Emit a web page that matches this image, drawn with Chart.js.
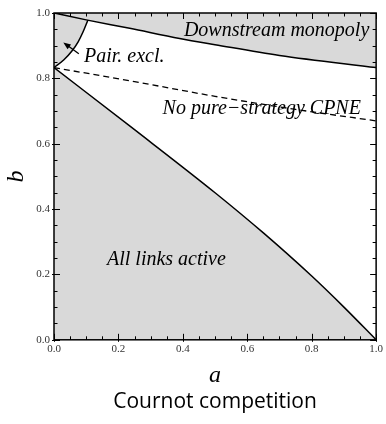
<!DOCTYPE html>
<html>
<head>
<meta charset="utf-8">
<script src="https://cdn.jsdelivr.net/npm/chart.js@4/dist/chart.umd.min.js"></script>
<style>
  html, body { margin: 0; padding: 0; background: #fff; }
  #wrap { width: 386px; height: 424px; position: relative; }
</style>
</head>
<body>
<div id="wrap"><canvas id="chart"></canvas></div>
<script>
// ---- data (a on x, b on y) ----
const topA   = [0, 0.1, 0.235, 0.39, 0.5, 0.7, 1];
const topB   = [1.0, 0.979, 0.953, 0.922, 0.903, 0.870, 0.833];

const dashA  = [0, 0.25, 0.5, 0.75, 1];
const dashB  = [0.833, 0.79, 0.745, 0.705, 0.67];

const lowA   = [0, 0.25, 0.5, 0.65, 0.8, 0.9, 1];
const lowB   = [0.833, 0.643, 0.45, 0.327, 0.195, 0.1, 0];

const arcA   = [0, 0.03, 0.055, 0.075, 0.09, 0.105];
const arcB   = [0.833, 0.856, 0.883, 0.912, 0.942, 0.978];

const tickValues = [0, 0.2, 0.4, 0.6, 0.8, 1.0];

const regionLabels = [
  { text: 'Downstream monopoly',   a: 0.691, b: 0.93 },
  { text: 'Pair. excl.',           a: 0.218, b: 0.85 },
  { text: 'No pure\u2212strategy CPNE', a: 0.645, b: 0.69 },
  { text: 'All links active',      a: 0.349, b: 0.229 }
];
const arrowFrom = { a: 0.077, b: 0.875 };
const arrowTo   = { a: 0.029, b: 0.910 };

const GRAY  = '#d9d9d9';
const SERIF = '"Liberation Serif", "DejaVu Serif", serif';

const pts = (xs, ys) => xs.map((x, i) => ({ x, y: ys[i] }));

// labels, arrow and frame with inward ticks
const framePlugin = {
  id: 'frame',
  beforeDatasetsDraw(chart) {
    const { ctx, scales: { x, y } } = chart;
    ctx.save();
    ctx.fillStyle = '#000';
    ctx.font = `italic 20px ${SERIF}`;
    ctx.textAlign = 'center';
    ctx.textBaseline = 'alphabetic';
    regionLabels.forEach(l => {
      ctx.fillText(l.text, x.getPixelForValue(l.a), y.getPixelForValue(l.b));
    });
    // arrow
    const x0 = x.getPixelForValue(arrowFrom.a), y0 = y.getPixelForValue(arrowFrom.b);
    const x1 = x.getPixelForValue(arrowTo.a),   y1 = y.getPixelForValue(arrowTo.b);
    const ang = Math.atan2(y1 - y0, x1 - x0);
    ctx.strokeStyle = '#000';
    ctx.lineWidth = 1.3;
    ctx.beginPath();
    ctx.moveTo(x0, y0);
    ctx.lineTo(x1 - 4 * Math.cos(ang), y1 - 4 * Math.sin(ang));
    ctx.stroke();
    ctx.beginPath();
    ctx.moveTo(x1, y1);
    ctx.lineTo(x1 - 8 * Math.cos(ang - 0.38), y1 - 8 * Math.sin(ang - 0.38));
    ctx.lineTo(x1 - 8 * Math.cos(ang + 0.38), y1 - 8 * Math.sin(ang + 0.38));
    ctx.closePath();
    ctx.fill();
    ctx.restore();
  },
  afterDatasetsDraw(chart) {
    const { ctx, chartArea: c, scales: { x, y } } = chart;
    ctx.save();
    ctx.strokeStyle = '#000';
    ctx.lineWidth = 1;
    ctx.beginPath();
    for (let i = 0; i <= 20; i++) {
      const v = i * 0.05;
      const major = i % 4 === 0;
      const len = major ? 6 : 3.5;
      const px = Math.round(x.getPixelForValue(v)) + 0.5;
      const py = Math.round(y.getPixelForValue(v)) + 0.5;
      ctx.moveTo(px, c.bottom + (major ? 2 : 0)); ctx.lineTo(px, c.bottom - len);
      ctx.moveTo(px, c.top); ctx.lineTo(px, c.top + len);
      ctx.moveTo(c.left - (major ? 2 : 0), py); ctx.lineTo(c.left + len, py);
      ctx.moveTo(c.right, py); ctx.lineTo(c.right - len, py);
    }
    ctx.stroke();
    ctx.lineWidth = 1.5;
    ctx.strokeRect(c.left, c.top, c.right - c.left, c.bottom - c.top);
    ctx.restore();
  }
};

const lineStyle = { borderColor: '#000', borderWidth: 1.5, pointRadius: 0, tension: 0.35, cubicInterpolationMode: 'monotone' };

new Chart(document.getElementById('chart'), {
  type: 'line',
  data: {
    datasets: [
      { ...lineStyle, data: pts(topA, topB),   fill: 'end',    backgroundColor: GRAY },
      { ...lineStyle, data: pts(arcA, arcB),   fill: 'end',    backgroundColor: GRAY },
      { ...lineStyle, data: pts(lowA, lowB),   fill: 'origin', backgroundColor: GRAY },
      { ...lineStyle, data: pts(dashA, dashB), fill: false, borderDash: [6, 4], borderWidth: 1.3 }
    ]
  },
  options: {
    responsive: true,
    maintainAspectRatio: false,
    animation: false,
    events: [],
    layout: { padding: { top: 13, right: 8, left: 0, bottom: 0 } },
    scales: {
      x: {
        type: 'linear', min: 0, max: 1,
        grid: { display: false, drawTicks: false },
        border: { display: false },
        afterBuildTicks: s => { s.ticks = tickValues.map(v => ({ value: v })); },
        afterFit: s => { s.height = 50; },
        ticks: { padding: 3, color: '#333', font: { family: SERIF, size: 11 }, maxRotation: 0, callback: v => v.toFixed(1) },
        title: { display: true, text: 'a', color: '#000', font: { family: SERIF, size: 24, style: 'italic' }, padding: { top: 0, bottom: 0 } }
      },
      y: {
        type: 'linear', min: 0, max: 1,
        grid: { display: false, drawTicks: false },
        border: { display: false },
        afterBuildTicks: s => { s.ticks = tickValues.map(v => ({ value: v })); },
        afterFit: s => { s.width = 54; },
        ticks: { padding: 4, color: '#333', font: { family: SERIF, size: 11 }, callback: v => v.toFixed(1) },
        title: { display: true, text: 'b', color: '#000', font: { family: SERIF, size: 24, style: 'italic' }, padding: { top: 2, bottom: 0 } }
      }
    },
    plugins: {
      legend: { display: false },
      tooltip: { enabled: false },
      filler: { drawTime: 'beforeDatasetsDraw' },
      title: {
        display: true, position: 'bottom', fullSize: false,
        text: 'Cournot competition', color: '#000',
        font: { family: '"Open Sans"', size: 21, weight: 'normal' },
        padding: { top: 0, bottom: 9 }
      }
    }
  },
  plugins: [framePlugin]
});
</script>
</body>
</html>
